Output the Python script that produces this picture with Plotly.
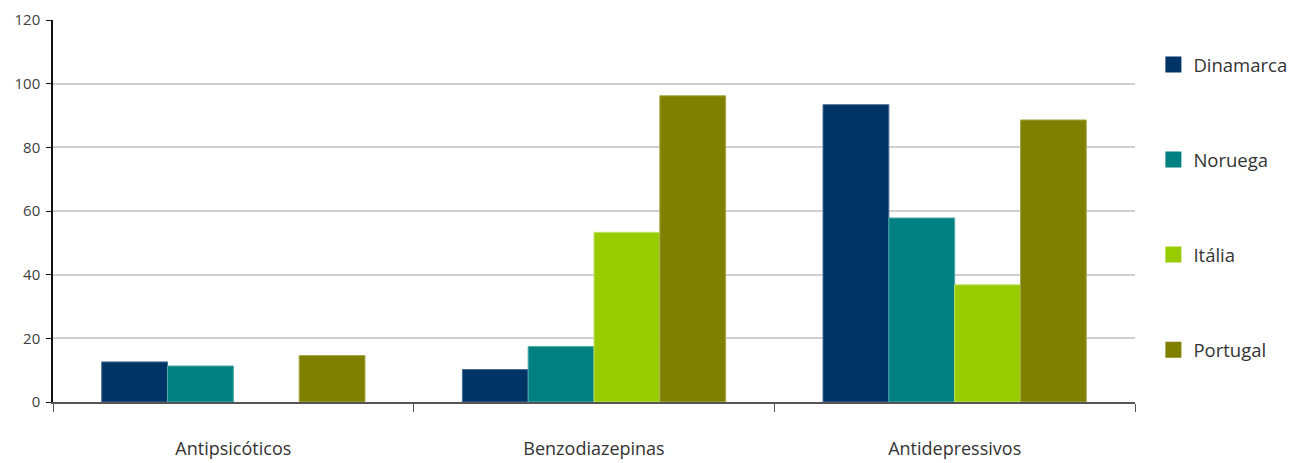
import plotly.graph_objects as go

# Categories and series values
categorias = ["Antipsicóticos", "Benzodiazepinas", "Antidepressivos"]
paises = ["Dinamarca", "Noruega", "Itália", "Portugal"]
dinamarca = [12.6, 10.2, 93.4]
noruega = [11.3, 17.4, 57.8]
italia = [None, 53.3, 36.8]
portugal = [14.6, 96.2, 88.6]
y_ticks = [0, 20, 40, 60, 80, 100, 120]

series = [dinamarca, noruega, italia, portugal]
cores = ["#003366", "#008080", "#99cc00", "#808000"]
contornos = ["#4a6d94", "#4aa8a8", "#c2e066", "#a8a84a"]

font_family = "Open Sans, Noto Sans, sans-serif"

fig = go.Figure()
for nome, valores, cor, contorno in zip(paises, series, cores, contornos):
    fig.add_trace(go.Bar(
        x=categorias, y=valores, name=nome,
        marker=dict(color=cor, line=dict(color=contorno, width=1)),
        showlegend=False, legendgroup=nome,
    ))
# legend entries with larger square swatches
for nome, cor in zip(paises, cores):
    fig.add_trace(go.Scatter(
        x=[None], y=[None], mode="markers", name=nome, legendgroup=nome,
        marker=dict(symbol="square", size=17, color=cor),
    ))

fig.update_layout(
    width=1294, height=463,
    margin=dict(l=53, r=159, t=20, b=61, autoexpand=False),
    paper_bgcolor="white", plot_bgcolor="white",
    barmode="group", bargap=0.27, bargroupgap=0,
    font=dict(family=font_family, color="#333333"),
    legend=dict(
        x=1.017, xanchor="left", y=0.932, yanchor="top",
        font=dict(size=18.5, color="#333333"),
        tracegroupgap=68, bgcolor="rgba(0,0,0,0)",
        itemclick=False, itemdoubleclick=False,
    ),
)
fig.update_xaxes(
    showline=True, linecolor="#555555", linewidth=2,
    ticks="outside", tickson="boundaries", ticklen=8, tickcolor="#555555",
    tickfont=dict(size=18, color="#333333"),
    ticklabelstandoff=29,
    showgrid=False,
)
fig.update_yaxes(
    range=[0, 120], tickvals=y_ticks,
    showline=True, linecolor="#111111", linewidth=1.5,
    ticks="outside", ticklen=5, tickcolor="#111111",
    tickfont=dict(size=15, color="#404040"),
    ticklabelstandoff=3,
    showgrid=True, gridcolor="#d0d0d0", gridwidth=1.5,
    zeroline=False,
)

fig.write_html("out.html")
